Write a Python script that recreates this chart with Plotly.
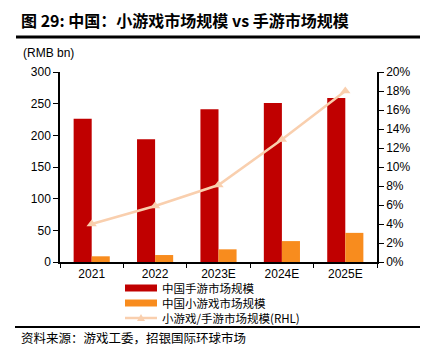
import plotly.graph_objects as go

categories = ["2021", "2022", "2023E", "2024E", "2025E"]
mobile_game = [226, 194, 241, 251, 259]
mini_game = [9, 11, 20, 33, 46]
ratio_pct = [4.0, 5.9, 8.1, 12.9, 18.0]

left_ticks = [0, 50, 100, 150, 200, 250, 300]
right_ticks = list(range(0, 21, 2))

series_names = ["中国手游市场规模", "中国小游戏市场规模", "小游戏/手游市场规模(RHL)"]
series_colors = ["#C00000", "#F88C1E", "#F9CFAE"]

FONT = "Liberation Sans, Arial, sans-serif"
CJK = "Noto Sans CJK SC"

# page offset (default body margin) and plot area geometry in window pixels
OFF = 8
W, H = 428 - OFF, 359 - OFF
L, R, T, B = 60 - OFF, 51, 72 - OFF, 97
PW, PH = W - L - R, H - T - B


def px(x):
    return (x - OFF - L) / PW


def py(y):
    return (H - B - (y - OFF)) / PH


fig = go.Figure()
fig.add_trace(go.Bar(x=categories, y=mobile_game, name=series_names[0],
                     marker=dict(color=series_colors[0], line=dict(width=0))))
fig.add_trace(go.Bar(x=categories, y=mini_game, name=series_names[1],
                     marker=dict(color=series_colors[1], line=dict(width=0))))
fig.add_trace(go.Scatter(x=categories, y=ratio_pct, name=series_names[2],
                         yaxis="y2", mode="lines+markers",
                         line=dict(color=series_colors[2], width=2.5),
                         marker=dict(symbol="triangle-up", size=9, color=series_colors[2])))

fig.update_layout(
    width=W, height=H,
    margin=dict(l=L, r=R, t=T, b=B, autoexpand=False),
    paper_bgcolor="white", plot_bgcolor="white",
    barmode="group", bargap=0.43, bargroupgap=0,
    font=dict(family=FONT, size=12, color="black"),
    showlegend=False,
    xaxis=dict(type="category", showline=True, linecolor="black", linewidth=1.5,
               ticks="outside", tickson="boundaries", ticklen=4, tickcolor="black",
               showgrid=False, tickfont=dict(family=FONT, size=12)),
    yaxis=dict(range=[0, 300], tickvals=left_ticks, showline=True, linecolor="black",
               linewidth=1.5, ticks="outside", ticklen=5, tickcolor="black",
               showgrid=False, zeroline=False, tickfont=dict(family=FONT, size=12)),
    yaxis2=dict(range=[0, 20], tickvals=right_ticks, ticktext=[f"{v}%" for v in right_ticks],
                overlaying="y", side="right", showline=True, linecolor="black",
                linewidth=1.5, ticks="outside", ticklen=5, tickcolor="black",
                showgrid=False, zeroline=False, tickfont=dict(family=FONT, size=12)),
)

# title, unit, source
fig.add_annotation(text="<b>图 29: 中国：小游戏市场规模 vs 手游市场规模</b>", xref="paper", yref="paper",
                   x=px(19), y=py(20), xanchor="left", yanchor="middle",
                   showarrow=False, font=dict(family=CJK, size=16, color="black"))
fig.add_annotation(text="(RMB bn)", xref="paper", yref="paper", x=px(21), y=py(53),
                   xanchor="left", yanchor="middle", showarrow=False,
                   font=dict(family=FONT, size=12, color="black"))
fig.add_annotation(text="资料来源：游戏工委，招银国际环球市场", xref="paper", yref="paper",
                   x=px(19), y=py(337), xanchor="left", yanchor="middle", showarrow=False,
                   font=dict(family=CJK, size=12.5, color="black"))
fig.add_shape(type="line", xref="paper", yref="paper", x0=px(16), x1=px(428),
              y0=py(37), y1=py(37), line=dict(color="black", width=3))
fig.add_shape(type="line", xref="paper", yref="paper", x0=px(15), x1=px(428),
              y0=py(327), y1=py(327), line=dict(color="black", width=2))

# legend (drawn manually to match reference swatches)
legend_y = [288, 303, 318]
for i, color in enumerate(series_colors):
    yy = py(legend_y[i])
    if i < 2:
        fig.add_shape(type="rect", xref="paper", yref="paper", x0=px(125), x1=px(157),
                      y0=py(legend_y[i] - 3.5), y1=py(legend_y[i] + 3.5),
                      line=dict(width=0), fillcolor=color)
    else:
        fig.add_shape(type="line", xref="paper", yref="paper", x0=px(125), x1=px(157),
                      y0=yy, y1=yy, line=dict(color=color, width=2.5))
        fig.add_shape(type="path", xref="paper", yref="paper",
                      path=f"M {px(137)},{py(legend_y[i] + 3)} L {px(145)},{py(legend_y[i] + 3)} "
                           f"L {px(141)},{py(legend_y[i] - 4)} Z",
                      line=dict(width=0), fillcolor=color)
fig.add_annotation(text="<br>".join(series_names), xref="paper", yref="paper",
                   x=px(161), y=py(303), xanchor="left", yanchor="middle", align="left",
                   showarrow=False, borderpad=0,
                   font=dict(family=CJK, size=11.5, color="black"))

fig.write_html("out.html")
